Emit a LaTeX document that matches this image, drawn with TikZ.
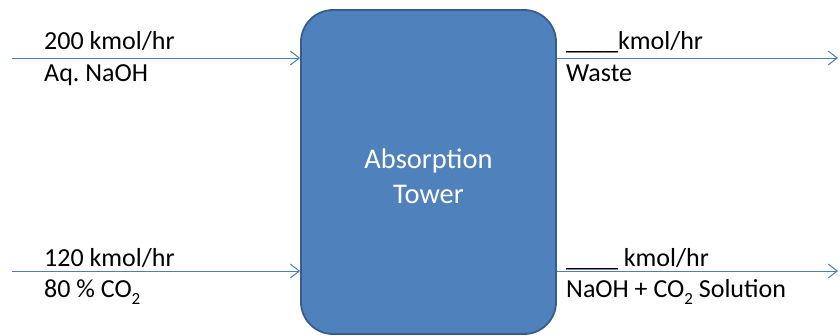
\documentclass[tikz,border=0pt]{standalone}
\usepackage{fontspec}
\setmainfont{Carlito}
\usetikzlibrary{arrows.meta}
\definecolor{boxfill}{HTML}{4F81BD}
\definecolor{boxline}{HTML}{385D8A}
\definecolor{arrowc}{HTML}{4A7EBB}
\newcommand{\subtwo}{\raisebox{-7.5pt}{\fontsize{17}{17}\selectfont 2}}
\frenchspacing
\begin{document}
\begin{tikzpicture}[x=1pt,y=1pt,
  lbl/.style={anchor=base west, inner sep=0pt, font=\fontsize{26}{30}\selectfont, text=black},
  flow/.style={draw=arrowc, line width=1pt, -{Straight Barb[length=9pt,width=14pt]}}]
\useasboundingbox (0,0) rectangle (840,-335);
\node[draw=boxline, line width=1.8pt, fill=boxfill, rounded corners=32pt,
  minimum width=255pt, minimum height=324pt, inner sep=0pt] (tower) at (428.5,-172) {};
\node[text=white, align=center, font=\fontsize{28.5}{35}\selectfont] (tlabel) at (428.5,-176) {Absorption\\Tower};
% inlet/outlet coordinates
\coordinate (in1) at (12,-58);
\coordinate (in2) at (12,-271);
\coordinate (out1) at (838,-58);
\coordinate (out2) at (838,-271);
\draw[flow] (in1) -- (tower.west |- in1);
\draw[flow] (in2) -- (tower.west |- in2);
\draw[flow] (tower.east |- out1) -- (out1);
\draw[flow] (tower.east |- out2) -- (out2);
% labels
\node[lbl] (l1a) at (44,-49) {200 kmol/hr};
\node[lbl] (l1b) at (44,-81) {Aq.\ NaOH};
\node[lbl] (l2a) at (44,-266) {120 kmol/hr};
\node[lbl] (l2b) at (44,-297) {80 \% CO\subtwo};
\node[lbl] (r1a) at (566,-49) {\_\_\_\_kmol/hr};
\node[lbl] (r1b) at (566,-81) {Waste};
\node[lbl] (r2a) at (566,-266) {\_\_\_\_ kmol/hr};
\node[lbl] (r2b) at (566,-297) {NaOH + CO\subtwo{} Solution};
\end{tikzpicture}
\end{document}
